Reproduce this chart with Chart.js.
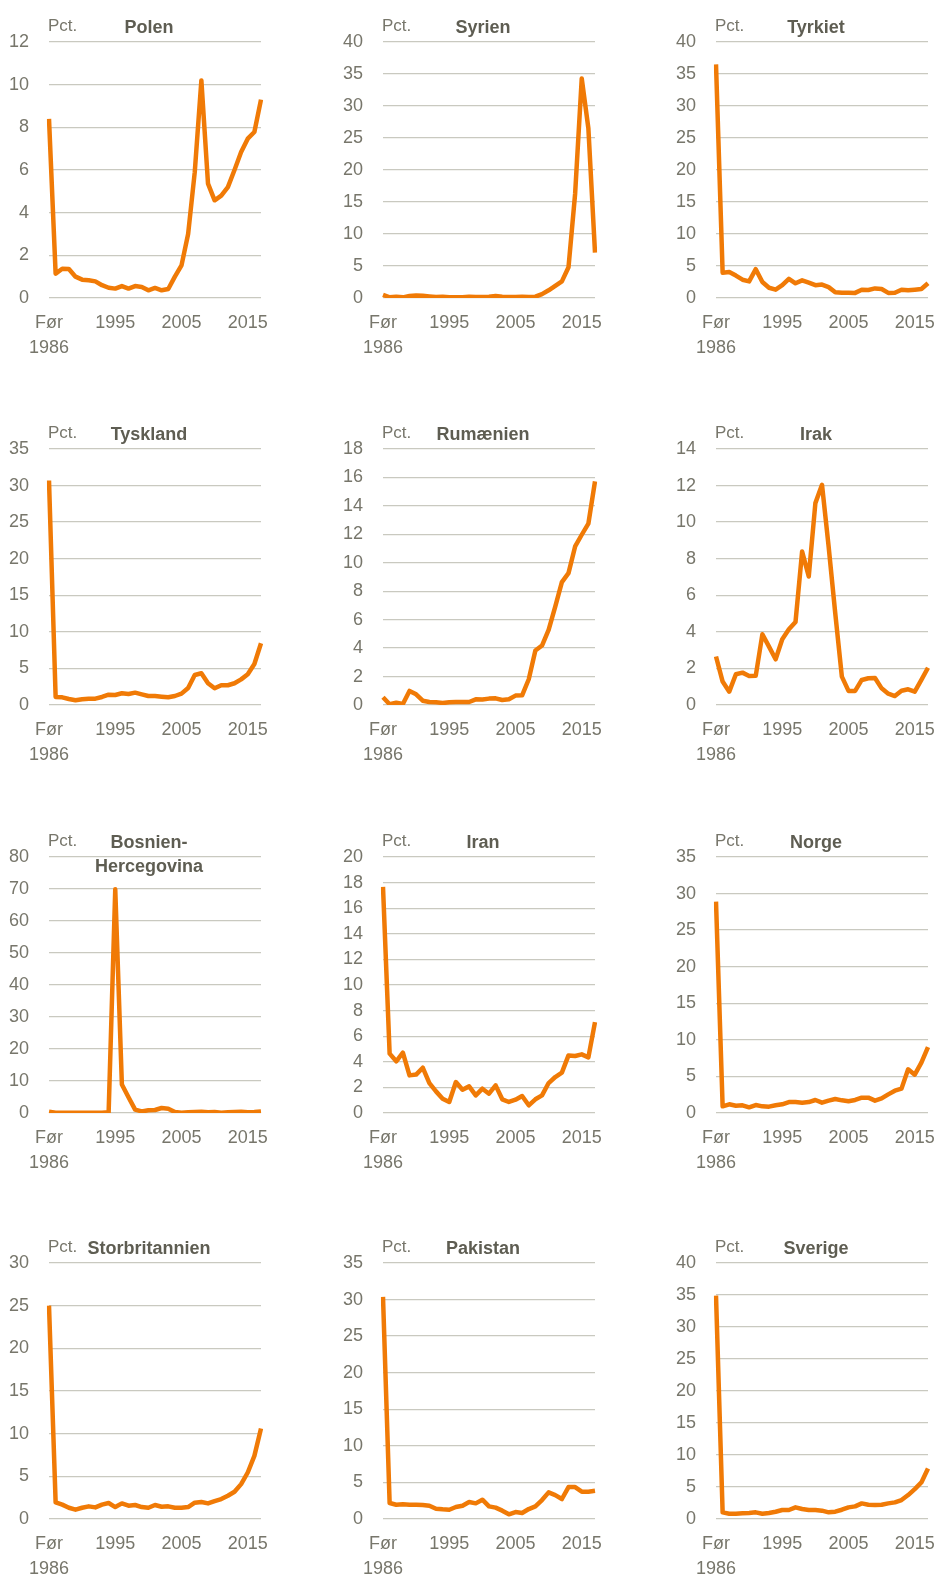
<!DOCTYPE html>
<html lang="da">
<head>
<meta charset="utf-8">
<title>Andel efter oprindelsesland</title>
<script src="https://cdn.jsdelivr.net/npm/chart.js@4.4.1/dist/chart.umd.min.js"></script>
<style>
  html, body { margin: 0; padding: 0; background: #fff; overflow: hidden; }
  #ramme { position: relative; width: 936px; height: 1578px; overflow: hidden; }
  #ramme canvas { position: absolute; }
</style>
</head>
<body>
<div id="ramme"></div>
<script>
// Kategorier (x-akse)
const aar = ['Før 1986', '1986', '1987', '1988', '1989', '1990', '1991', '1992', '1993', '1994',
  '1995', '1996', '1997', '1998', '1999', '2000', '2001', '2002', '2003', '2004',
  '2005', '2006', '2007', '2008', '2009', '2010', '2011', '2012', '2013', '2014',
  '2015', '2016', '2017'];
const visteAar = ['Før 1986', '1995', '2005', '2015'];

// Serier, pct.
const polen = [8.4, 1.14, 1.37, 1.36, 1.0, 0.86, 0.83, 0.78, 0.6, 0.48, 0.44, 0.56, 0.44, 0.56, 0.52, 0.36, 0.47,
  0.36, 0.42, 1.0, 1.53, 3.0, 5.9, 10.2, 5.36, 4.58, 4.8, 5.2, 6.0, 6.84, 7.47, 7.78, 9.3];
const syrien = [0.5, 0.1, 0.2, 0.1, 0.3, 0.4, 0.35, 0.25, 0.15, 0.2, 0.1, 0.1, 0.1, 0.2, 0.15, 0.15, 0.2,
  0.3, 0.2, 0.15, 0.15, 0.2, 0.15, 0.2, 0.6, 1.2, 1.9, 2.6, 4.8, 16.3, 34.3, 26.5, 7.1];
const tyrkiet = [36.5, 3.96, 4.06, 3.5, 2.86, 2.6, 4.5, 2.5, 1.6, 1.3, 2.0, 3.0, 2.3, 2.76, 2.4, 2.0, 2.1,
  1.7, 0.9, 0.83, 0.83, 0.8, 1.3, 1.25, 1.5, 1.4, 0.8, 0.83, 1.3, 1.2, 1.3, 1.4, 2.3];
const tyskland = [30.7, 1.1, 1.05, 0.82, 0.64, 0.78, 0.87, 0.87, 1.1, 1.41, 1.37, 1.6, 1.5, 1.69, 1.46, 1.23, 1.23,
  1.14, 1.05, 1.23, 1.55, 2.33, 4.1, 4.34, 2.97, 2.28, 2.7, 2.7, 2.97, 3.5, 4.2, 5.6, 8.44];
const rumaenien = [0.54, 0.05, 0.16, 0.07, 0.99, 0.75, 0.3, 0.21, 0.19, 0.14, 0.19, 0.21, 0.21, 0.21, 0.4, 0.38, 0.45,
  0.47, 0.35, 0.4, 0.66, 0.68, 1.81, 3.83, 4.18, 5.28, 6.92, 8.64, 9.27, 11.15, 11.97, 12.75, 15.73];
const irak = [2.65, 1.28, 0.73, 1.68, 1.77, 1.59, 1.6, 3.87, 3.19, 2.5, 3.6, 4.14, 4.54, 8.39, 7.03, 11.04, 12.04,
  8.67, 5.02, 1.55, 0.77, 0.77, 1.37, 1.46, 1.48, 0.91, 0.62, 0.49, 0.78, 0.86, 0.73, 1.37, 2.04];
const bosnien = [0.4, 0.05, 0.05, 0.05, 0.05, 0.05, 0.05, 0.05, 0.1, 0.2, 69.9, 8.9, 4.9, 1.05, 0.5, 0.84, 0.94,
  1.57, 1.36, 0.3, 0.1, 0.2, 0.3, 0.4, 0.2, 0.3, 0.1, 0.2, 0.3, 0.4, 0.2, 0.3, 0.5];
const iran = [17.66, 4.64, 4.04, 4.71, 2.94, 3.0, 3.54, 2.34, 1.69, 1.12, 0.86, 2.42, 1.82, 2.08, 1.38, 1.9, 1.51,
  2.16, 1.07, 0.86, 1.04, 1.33, 0.6, 1.07, 1.38, 2.34, 2.81, 3.15, 4.5, 4.45, 4.58, 4.35, 7.1];
const norge = [28.9, 0.91, 1.19, 1.0, 1.05, 0.77, 1.09, 0.91, 0.87, 1.05, 1.19, 1.5, 1.5, 1.41, 1.5, 1.78, 1.41,
  1.69, 1.91, 1.73, 1.6, 1.78, 2.1, 2.1, 1.69, 2.0, 2.55, 3.05, 3.33, 5.97, 5.24, 6.88, 9.02];
const storbritannien = [25.0, 1.95, 1.68, 1.32, 1.09, 1.32, 1.48, 1.36, 1.68, 1.87, 1.4, 1.83, 1.56, 1.64, 1.4, 1.32, 1.64,
  1.44, 1.48, 1.32, 1.32, 1.4, 1.91, 1.99, 1.83, 2.1, 2.34, 2.73, 3.19, 4.09, 5.45, 7.4, 10.6];
const pakistan = [30.36, 2.18, 1.95, 2.0, 1.95, 1.95, 1.91, 1.82, 1.41, 1.32, 1.27, 1.64, 1.82, 2.32, 2.14, 2.64, 1.73,
  1.55, 1.14, 0.64, 0.95, 0.82, 1.36, 1.73, 2.59, 3.64, 3.27, 2.73, 4.36, 4.36, 3.73, 3.73, 3.86];
const sverige = [34.9, 1.04, 0.83, 0.83, 0.88, 0.94, 1.04, 0.83, 0.94, 1.14, 1.4, 1.4, 1.82, 1.56, 1.4, 1.4, 1.3,
  1.04, 1.14, 1.45, 1.82, 1.97, 2.44, 2.23, 2.18, 2.23, 2.44, 2.6, 2.96, 3.74, 4.68, 5.71, 7.9];

// Paneler: titel, serie, y-akse maks og trin
const titler = [['Polen'], ['Syrien'], ['Tyrkiet'], ['Tyskland'], ['Rumænien'], ['Irak'],
  ['Bosnien-', 'Hercegovina'], ['Iran'], ['Norge'], ['Storbritannien'], ['Pakistan'], ['Sverige']];
const serier = [polen, syrien, tyrkiet, tyskland, rumaenien, irak, bosnien, iran, norge, storbritannien, pakistan, sverige];
const yMaks = [12, 40, 40, 35, 18, 14, 80, 20, 35, 30, 35, 40];
const yTrin = [2, 5, 5, 5, 2, 2, 10, 2, 5, 5, 5, 5];

const skrift = "'Liberation Sans', Arial, sans-serif";
const orange = '#f07a06';
const tekstFarve = '#77766b';
const titelFarve = '#5e5d52';
const gitterFarve = '#c9c9c0';

// Placering af panelerne
const kolonner = [0, 334, 667];
const raekker = [0, 407, 815, 1221];
const bredde = 274, hoejde = 370;

// "Pct." og landenavn over hvert panel
const overskrift = {
  id: 'overskrift',
  afterDraw(chart, args, opts) {
    const { ctx, chartArea } = chart;
    ctx.save();
    ctx.textBaseline = 'alphabetic';
    ctx.fillStyle = tekstFarve;
    ctx.font = `17px ${skrift}`;
    ctx.textAlign = 'left';
    ctx.fillText('Pct.', chartArea.left - 1, chartArea.top - 11);
    ctx.fillStyle = titelFarve;
    ctx.font = `bold 18px ${skrift}`;
    ctx.textAlign = 'center';
    opts.tekst.forEach((linje, i) => {
      ctx.fillText(linje, chartArea.left + 100, chartArea.top - 9 + i * 24);
    });
    ctx.restore();
  }
};

const ramme = document.querySelector('#ramme');

serier.forEach((data, n) => {
  const canvas = document.createElement('canvas');
  canvas.width = bredde;
  canvas.height = hoejde;
  canvas.style.left = kolonner[n % 3] + 'px';
  canvas.style.top = raekker[Math.floor(n / 3)] + 'px';
  ramme.appendChild(canvas);

  new Chart(canvas, {
    type: 'line',
    data: {
      labels: aar,
      datasets: [{
        data: data,
        borderColor: orange,
        borderWidth: 4.5,
        borderJoinStyle: 'round',
        pointRadius: 0,
        tension: 0,
        fill: false
      }]
    },
    plugins: [overskrift],
    options: {
      responsive: false,
      animation: false,
      layout: { padding: { top: 42, right: 0, left: 0, bottom: 0 } },
      plugins: {
        legend: { display: false },
        tooltip: { enabled: false },
        overskrift: { tekst: titler[n] }
      },
      scales: {
        x: {
          afterFit: (s) => { s.height = hoejde - 42 - 256; },
          grid: { display: false, drawTicks: false },
          border: { display: false },
          ticks: {
            autoSkip: false,
            maxRotation: 0,
            minRotation: 0,
            padding: 13,
            color: tekstFarve,
            font: { family: skrift, size: 18, lineHeight: 1.36 },
            callback: (v, i) => {
              const l = aar[i];
              if (!visteAar.includes(l)) return '';
              return l === 'Før 1986' ? ['Før', '1986'] : l;
            }
          }
        },
        y: {
          min: 0,
          max: yMaks[n],
          afterFit: (s) => { s.width = 49; },
          grid: { color: gitterFarve, lineWidth: 1.3, drawTicks: false },
          border: { display: false },
          ticks: {
            stepSize: yTrin[n],
            autoSkip: false,
            padding: 20,
            color: tekstFarve,
            font: { family: skrift, size: 18 }
          }
        }
      }
    }
  });
});
</script>
</body>
</html>
